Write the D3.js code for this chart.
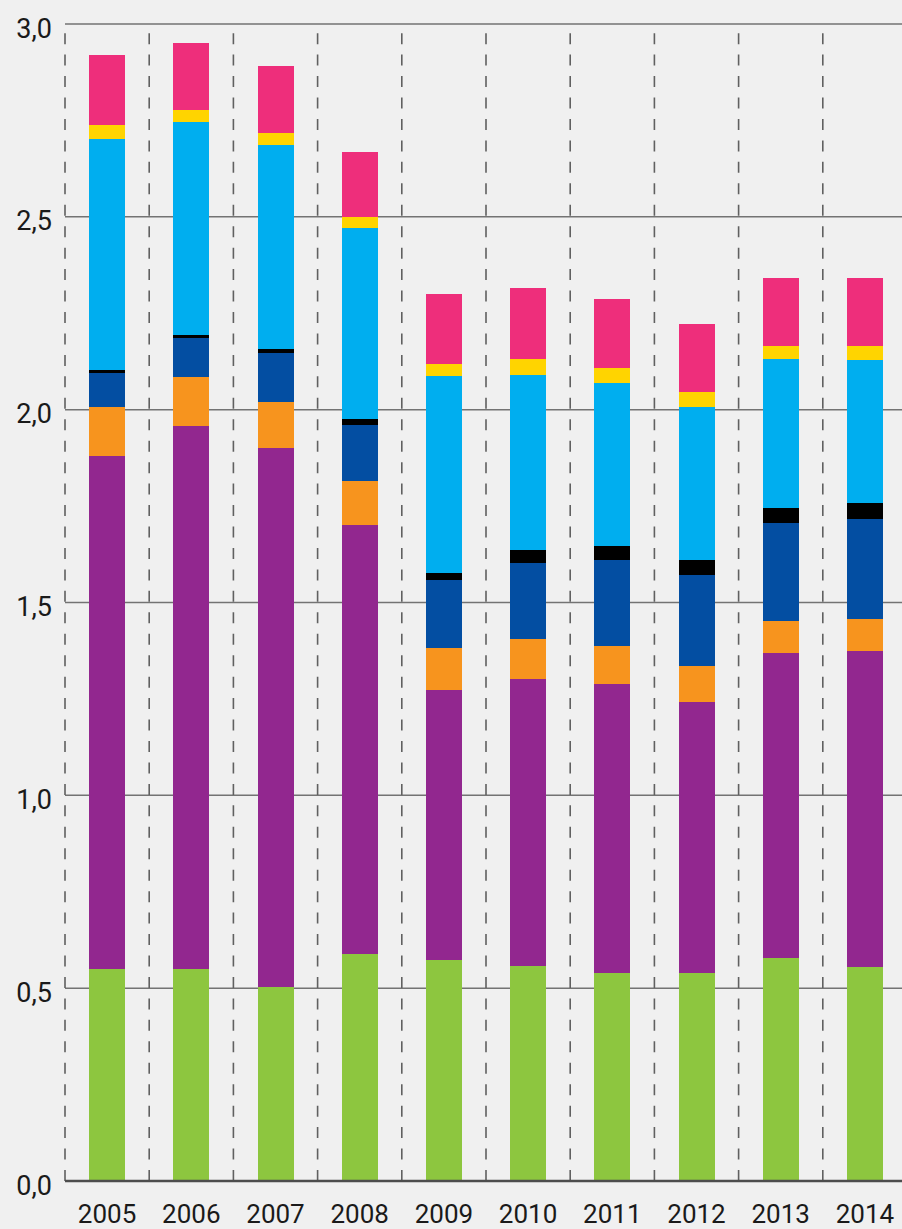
<!DOCTYPE html>
<html>
<head>
<meta charset="utf-8">
<script src="https://cdn.jsdelivr.net/npm/d3@7"></script>
<style>
  html, body { margin: 0; padding: 0; background: #f0f0f0; overflow: hidden; }
  svg { display: block; }
  text { font-family: Roboto, "DejaVu Sans", sans-serif; fill: #1a1a1a; font-weight: 400; }
</style>
</head>
<body>
<div id="chart"></div>
<script>
const years = ["2005","2006","2007","2008","2009","2010","2011","2012","2013","2014"];
const seriesNames = ["green","purple","orange","darkblue","black","lightblue","yellow","pink"];
const seriesColors = ["#8dc63f","#92278f","#f7941e","#034ea2","#000000","#00aeef","#ffd400","#ee2e7b"];
const green     = [0.550,0.550,0.503,0.589,0.573,0.557,0.539,0.539,0.578,0.555];
const purple    = [1.330,1.408,1.398,1.112,0.700,0.744,0.749,0.703,0.791,0.819];
const orange    = [0.127,0.127,0.119,0.114,0.109,0.104,0.099,0.093,0.083,0.083];
const darkblue  = [0.088,0.101,0.127,0.145,0.176,0.197,0.223,0.236,0.254,0.259];
const black     = [0.008,0.008,0.010,0.016,0.018,0.034,0.036,0.039,0.039,0.041];
const lightblue = [0.599,0.552,0.529,0.495,0.511,0.454,0.423,0.397,0.386,0.373];
const yellow    = [0.036,0.031,0.031,0.029,0.031,0.041,0.039,0.039,0.034,0.036];
const pink      = [0.182,0.174,0.174,0.169,0.182,0.184,0.179,0.176,0.176,0.176];
const yTicks = [0, 0.5, 1.0, 1.5, 2.0, 2.5, 3.0];
const yTickLabels = ["0,0","0,5","1,0","1,5","2,0","2,5","3,0"];

const seriesValues = [green, purple, orange, darkblue, black, lightblue, yellow, pink];
const table = years.map((y, i) => {
  const row = { year: y };
  seriesNames.forEach((s, k) => row[s] = seriesValues[k][i]);
  return row;
});

const W = 902, H = 1229;
const x0 = 65, bandW = 84.2;
const x = d3.scaleBand().domain(years).range([x0, x0 + bandW * years.length]).padding(0);
const y = d3.scaleLinear().domain([0, 3]).range([1181, 24]);
const barW = 36;

const svg = d3.select("#chart").append("svg").attr("width", W).attr("height", H);
svg.append("rect").attr("width", W).attr("height", H).attr("fill", "#f0f0f0");

// horizontal gridlines
svg.append("g").selectAll("line").data(yTicks.filter(d => d > 0)).join("line")
  .attr("x1", x0).attr("x2", W)
  .attr("y1", d => y(d)).attr("y2", d => y(d))
  .attr("stroke", "#737373").attr("stroke-width", 1.5);

// vertical dashed lines at band boundaries (drawn bottom -> top)
const bounds = years.map(d => x(d));
svg.append("g").selectAll("line").data(bounds).join("line")
  .attr("x1", d => d).attr("x2", d => d)
  .attr("y1", y(0)).attr("y2", y(3))
  .attr("stroke", "#606060").attr("stroke-width", 1.6)
  .attr("stroke-dasharray", "11,10.45");

// stacked bars
const stack = d3.stack().keys(seriesNames)(table);
const colorOf = d3.scaleOrdinal().domain(seriesNames).range(seriesColors);
svg.append("g").selectAll("g").data(stack).join("g")
  .attr("fill", d => colorOf(d.key))
  .selectAll("rect").data(d => d).join("rect")
  .attr("x", d => x(d.data.year) + x.bandwidth() / 2 - barW / 2)
  .attr("width", barW)
  .attr("y", d => y(d[1]))
  .attr("height", d => y(d[0]) - y(d[1]))
  .attr("shape-rendering", "crispEdges");

// baseline
svg.append("line").attr("x1", x0).attr("x2", W)
  .attr("y1", y(0)).attr("y2", y(0))
  .attr("stroke", "#4d4d4d").attr("stroke-width", 2.5);

// y labels
svg.append("g").selectAll("text").data(yTicks).join("text")
  .attr("x", 52).attr("y", d => y(d) + 13.5)
  .attr("text-anchor", "end").attr("font-size", 27)
  .text((d, i) => yTickLabels[i]);

// x labels
svg.append("g").selectAll("text").data(years).join("text")
  .attr("x", d => x(d) + x.bandwidth() / 2).attr("y", 1223)
  .attr("text-anchor", "middle").attr("font-size", 26)
  .text(d => d);
</script>
</body>
</html>
